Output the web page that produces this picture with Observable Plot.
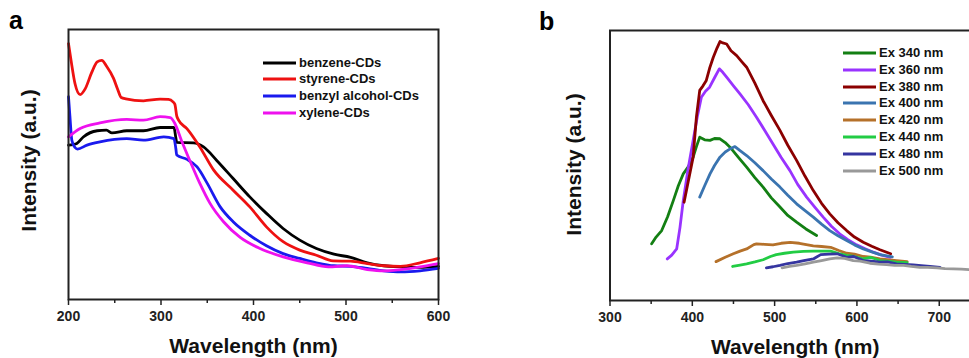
<!DOCTYPE html>
<html><head><meta charset="utf-8">
<script src="https://cdn.jsdelivr.net/npm/d3@7"></script>
<script src="https://cdn.jsdelivr.net/npm/@observablehq/plot@0.6"></script>
<style>
body{margin:0;overflow:hidden;background:#fff;font-family:"Liberation Sans",Arial,sans-serif;}
#wrap{position:relative;width:969px;height:358px;overflow:hidden;background:#fff;}
.panel{position:absolute;top:0;}
.tag{position:absolute;font-weight:bold;font-size:25px;line-height:1;color:#000;}
.leg{position:absolute;font-weight:bold;font-size:13px;line-height:14px;height:14px;white-space:nowrap;color:#111;display:flex;align-items:center;}
.leg svg{display:block;margin-right:3px;}
</style></head>
<body><div id="wrap"></div>
<script>
// ---------- Panel a : UV-Vis absorption ----------
const aTicksMajor = [200, 300, 400, 500, 600];
const aTicksMinor = [250, 350, 450, 550];
const aNames = ["benzene-CDs", "styrene-CDs", "benzyl alcohol-CDs", "xylene-CDs"];
const aColors = ["#000000", "#ee1111", "#1a1aee", "#ee11ee"];

const benzeneX = [200,205,209,216,231,241,247,263,281,299,314,316,317,335,346,360,378,396,414,432,450,468,487,505,523,541,559,580,600];
const benzeneY = [57.2,57.4,57.8,60.2,62.5,62.7,61.7,62.5,62.5,63.7,63.7,60,58.2,58.0,56.5,51.6,44.8,38,31.9,26.3,22,18.9,16.8,15.6,13.6,12.5,12.1,11.9,12.3];

const styreneX = [200,203,207,212.6,218,225,231,236,241,248.7,253,257,262,281,299,308,313,315,317,319,328,342,357,378,396,414,432,450,468,486,505,523,541,559,580,600];
const styreneY = [94.8,88,80,75.9,78,84,88,88.6,86.5,81.9,78,74.8,74.3,73.6,74.2,74.1,73.2,72.3,68,66.4,63.3,56.5,47.9,40.5,34.3,26.9,21.4,18.3,16.4,14.3,14.2,13.3,12.5,12.3,13.6,15.2];

const benzylX = [200,201.5,203.6,207,209.7,220,234,263,281,303,314,316,317,328,339,350,364,378,396,414,432,450,468,487,505,523,541,559,580,600];
const benzylY = [75.1,68,59,56.3,55.7,57.2,58.4,59.6,59,60.2,59.6,56,53.5,51.9,49.1,43,34.3,28.8,23.8,19.9,17,15.2,13.6,12.5,12.3,11.5,10.6,10.2,10.6,11.5];

const xyleneX = [200,212.6,234,263,281,299,310,315,322,331,342,353,367.6,385.6,407,432,458,481,501,523,541,559,580,600];
const xyleneY = [60.2,63.3,65.4,66.7,66.4,67.7,67.4,65.2,59,51.6,43,35.6,28.8,23,18.9,15.8,13.6,12.1,12.5,11.1,10.6,11.1,12.1,13.3];

// ---------- Panel b : PL emission ----------
const bTicksMajor = [300, 400, 500, 600, 700];
const bTicksMinor = [350, 450, 550, 650, 750];
const bNames = ["Ex 340 nm","Ex 360 nm","Ex 380 nm","Ex 400 nm","Ex 420 nm","Ex 440 nm","Ex 480 nm","Ex 500 nm"];
const bColors = ["#137f13","#9933ff","#8b0000","#3a74b0","#b5712a","#22cc44","#3535a0","#999999"];

const ex340X = [350.6,356,362.8,370,376.9,383,389,395,401,405,409,415,421.5,427,433.6,440,445.8,456,466,476,486,496,506.5,516,526.7,538,551];
const ex340Y = [21,23.5,25.9,31,37,42.5,46.9,49.5,53.1,57,60.5,59.5,59.3,60,59.9,58.5,56.8,53,49.4,45.5,42,38,34.6,31.5,29,26.5,24.1];

const ex360X = [369.6,375,381,385,389,395,401,406,411,416,421,427,432.8,437,441.7,450,457.9,468,478,488,498,508,518.6,528,538.9,549,559,569,579,589,599.6,610,619.9,630,641];
const ex360Y = [15.4,16.8,19.1,27,37,49,59.3,68,75.3,77.5,79,82.5,85.8,84.5,82.7,79.5,76.5,72.5,67.9,63,58,53,48.1,43,38.3,34.5,30.9,27.5,24.7,22.5,20.6,19.2,17.9,16.8,16];

const ex380X = [390,395,401,405,409,413,417,421,425.5,430,433.6,437,441.7,447,453.9,460,466,476,486,496,506.5,516,526.7,537,547,557,567,577,587.5,597,607.7,618,628,641];
const ex380Y = [36.4,44,53.1,68,77.8,79.5,81.5,86,90.1,93.5,95.9,95.4,95,92.5,90.7,88.5,86.4,80.5,74,68.5,63,57.5,51.9,46,40.7,36,32.1,28.8,25.9,23.5,21.6,20.1,18.8,17.3];

const ex400X = [409,415,421.5,427,433.6,440,445,451.8,458,466,476,486,496,506.5,516,526.7,537,547,557,567,577,587.5,597,607.7,618,628,643];
const ex400Y = [38.3,42.5,46.9,50,53.1,55,56,57,55.5,53.7,51,48.1,45,42,39,35.8,33.3,30.9,28.3,25.9,24,22.2,20.6,19.1,18,17,16.2];

const ex420X = [428.8,440,449.8,458,466,474.7,478,488,498,508,519,530,547,557,568,578,587.5,597,607.7,616.5,628,640,648,661];
const ex420Y = [14.4,16,17.3,18.3,19.1,20.7,21,20.8,20.6,21.2,21.5,21.2,20.2,20,19.7,18.5,17.5,17.2,16.3,16.1,15.4,15,14.8,14.4];

const ex440X = [449,458,466,476,486,495,502,512,522.7,535,547,557,568,578,587.5,597,607.7,616.5,628,640,648,661];
const ex440Y = [12.6,13.1,13.6,14.3,15.1,16.3,17,17.5,17.9,18.2,18.3,18.3,18.3,17.4,16.7,16.3,15.4,16,14.8,14.5,14.2,14];

const ex480X = [490,498,506.5,516,526.7,535.5,547,556,566,576,587.5,596,607.7,618,628,637,648,658,668.5,678,688.7,701];
const ex480Y = [12.1,12.5,13,13.7,14.2,14.8,15.4,17,17.2,17.3,16,16.3,14.8,14.6,14.2,14.3,13.6,13.4,13.2,12.9,12.6,12.3];

const ex500X = [509,518,526.7,537,547,557,567,576,585,595.6,604,615.8,626,636,646,656.6,666,676.5,686,697.5,707,717,727,737,750];
const ex500Y = [12.1,12.6,13,13.6,14.2,14.8,15.4,15.8,15.6,14.8,14.6,13.8,13.5,13.3,13,13,12.6,12.3,12.3,12.1,11.8,11.7,11.6,11.4,11.3];

// ---------- helpers ----------
const fontFamily = '"Liberation Sans", Arial, sans-serif';
const zip = (xs, ys) => xs.map((x, i) => ({x, y: ys[i]}));

const aSeries = [[benzeneX, benzeneY], [styreneX, styreneY], [benzylX, benzylY], [xyleneX, xyleneY]]
  .map(([xs, ys], i) => ({data: zip(xs, ys), color: aColors[i]}));
const bSeries = [[ex340X, ex340Y], [ex360X, ex360Y], [ex380X, ex380Y], [ex400X, ex400Y],
  [ex420X, ex420Y], [ex440X, ex440Y], [ex480X, ex480Y], [ex500X, ex500Y]]
  .map(([xs, ys], i) => ({data: zip(xs, ys), color: bColors[i]}));

function panel({width, marginLeft, marginRight, marginTop, marginBottom, domain, majors, minors, series, curve, ylabDx, ylabDy}) {
  return Plot.plot({
    width, height: 358, marginLeft, marginRight, marginTop, marginBottom,
    style: {fontFamily, background: "transparent", overflow: "visible"},
    x: {domain, label: null},
    y: {domain: [0, 100], axis: null, label: null},
    marks: [
      ...series.map(s => Plot.line(s.data, {x: "x", y: "y", stroke: s.color, strokeWidth: 2.8, curve, strokeLinejoin: "round"})),
      Plot.frame({stroke: "#222", strokeWidth: 2}),
      Plot.axisX(minors, {tickSize: 4, tickFormat: () => "", stroke: "#222", strokeWidth: 1.5, label: null}),
      Plot.axisX(majors, {tickSize: 6, tickPadding: 6, fontSize: 14, fontWeight: "bold", fill: "#222", stroke: "#222", strokeWidth: 1.5, label: null}),
      Plot.text(["Wavelength (nm)"], {text: d => d, frameAnchor: "bottom", dy: 53, fontSize: 21, fontWeight: "bold", fill: "#111"}),
      Plot.text(["Intensity (a.u.)"], {text: d => d, frameAnchor: "left", textAnchor: "middle", dx: ylabDx, dy: ylabDy, rotate: -90, fontSize: 21, fontWeight: "bold", fill: "#111"})
    ]
  });
}

const wrap = document.getElementById("wrap");

const svgA = panel({width: 480, marginLeft: 68, marginRight: 42, marginTop: 29, marginBottom: 59,
  domain: [200, 600], majors: aTicksMajor, minors: aTicksMinor, series: aSeries, curve: "monotone-x", ylabDx: -39, ylabDy: -4});
svgA.classList.add("panel"); svgA.style.left = "0px";
wrap.appendChild(svgA);

const svgB = panel({width: 520, marginLeft: 129.5, marginRight: 20.1, marginTop: 30, marginBottom: 58,
  domain: [300, 750], majors: bTicksMajor, minors: bTicksMinor, series: bSeries, curve: "linear", ylabDx: -35.5, ylabDy: -1});
svgB.classList.add("panel"); svgB.style.left = "480px";
wrap.appendChild(svgB);

// panel tags
function tag(t, left, top) {
  const d = document.createElement("div");
  d.className = "tag"; d.textContent = t; d.style.left = left + "px"; d.style.top = top + "px";
  wrap.appendChild(d);
}
tag("a", 9, 8);
tag("b", 539, 9);

// legends
function legend(names, colors, swLeft, firstY, step) {
  names.forEach((n, i) => {
    const row = document.createElement("div");
    row.className = "leg";
    row.style.left = swLeft + "px";
    row.style.top = (firstY + i * step - 7) + "px";
    row.innerHTML = `<svg width="33" height="6"><line x1="0" x2="33" y1="3" y2="3" stroke="${colors[i]}" stroke-width="3"/></svg><span>${n}</span>`;
    wrap.appendChild(row);
  });
}
legend(aNames, aColors, 263, 62.5, 16.8);
legend(bNames, bColors, 843, 53, 16.8);
</script>
</body></html>
